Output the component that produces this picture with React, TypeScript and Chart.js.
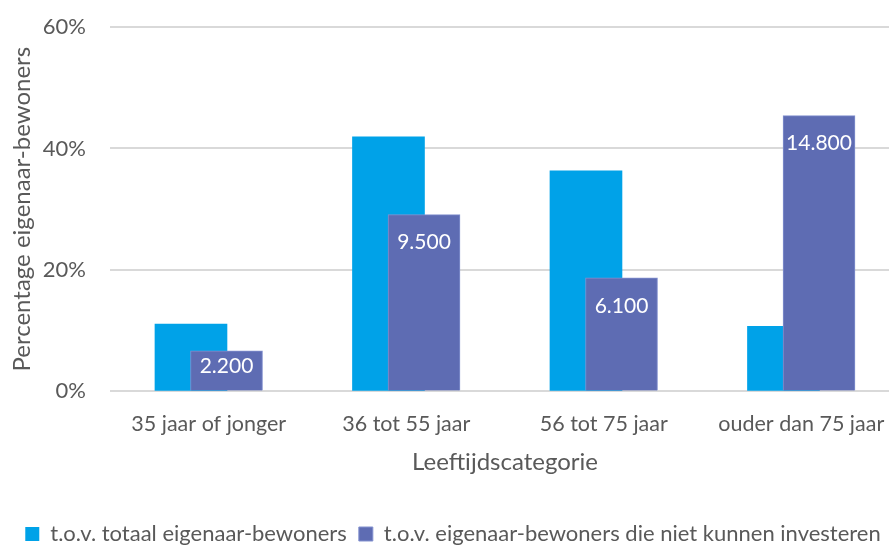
import React, { useEffect, useRef } from "react";
import { Chart, registerables } from "chart.js";

Chart.register(...registerables);

const categories = ["35 jaar of jonger", "36 tot 55 jaar", "56 tot 75 jaar", "ouder dan 75 jaar"];
const seriesNames = [
  "t.o.v. totaal eigenaar-bewoners",
  "t.o.v. eigenaar-bewoners die niet kunnen investeren",
];
const totalShare = [11.1, 41.9, 36.3, 10.7];
const nonInvestShare = [6.7, 29.1, 18.7, 45.4];
const nonInvestCount = [2200, 9500, 6100, 14800];
const yTicks = [0, 20, 40, 60];

const FONT = "Lato, 'Open Sans', sans-serif";
const TEXT = "#595959";
const BAR_OFFSET = 0.09;

function formatCount(n: number): string {
  return String(n).replace(/\B(?=(\d{3})+(?!\d))/g, ".");
}

const labelPlugin = {
  id: "barLabels",
  afterDatasetsDraw(chart: any) {
    const meta = chart.getDatasetMeta(1);
    const ctx = chart.ctx;
    ctx.save();
    ctx.fillStyle = "#ffffff";
    ctx.font = `21px ${FONT}`;
    ctx.textAlign = "center";
    ctx.textBaseline = "middle";
    meta.data.forEach((bar: any, i: number) => {
      const top = bar.y;
      const base = bar.base;
      const y = Math.min(top + 28, (top + base) / 2 - 4);
      ctx.fillText(formatCount(nonInvestCount[i]), bar.x, y);
    });
    ctx.restore();
  },
};

export default function App() {
  const ref = useRef<HTMLCanvasElement>(null);

  useEffect(() => {
    document.body.style.margin = "0";
    const chart = new Chart(ref.current!, {
      type: "bar",
      data: {
        datasets: [
          {
            label: seriesNames[0],
            data: totalShare.map((v, i) => ({ x: i - BAR_OFFSET, y: v })),
            backgroundColor: "#00A2E8",
            borderWidth: 0,
            order: 1,
          },
          {
            label: seriesNames[1],
            data: nonInvestShare.map((v, i) => ({ x: i + BAR_OFFSET, y: v })),
            backgroundColor: "#5E6CB3",
            borderColor: "#8391CF",
            borderWidth: 1,
            borderSkipped: "bottom",
            order: 0,
          },
        ] as any,
      },
      options: {
        animation: false,
        responsive: false,
        grouped: false,
        barThickness: 72,
        layout: { padding: { left: 6, right: 1, top: 27, bottom: 0 } },
        plugins: {
          legend: {
            position: "bottom",
            labels: {
              boxWidth: 14,
              boxHeight: 14,
              padding: 12,
              color: TEXT,
              font: { family: FONT, size: 22 },
              sort: (a: any, b: any) => a.datasetIndex - b.datasetIndex,
            },
          },
          tooltip: { enabled: false },
        },
        scales: {
          x: {
            type: "linear",
            offset: false,
            min: -0.5,
            max: 3.5,
            grid: { display: false },
            border: { display: false },
            afterBuildTicks: (scale: any) => {
              scale.ticks = categories.map((_, i) => ({ value: i }));
            },
            afterFit: (scale: any) => {
              scale.paddingLeft = 0;
              scale.paddingRight = 0;
            },
            ticks: {
              autoSkip: false,
              maxRotation: 0,
              color: TEXT,
              padding: 11.5,
              font: { family: FONT, size: 21.5 },
              callback: (v: any) => categories[v],
            },
            title: {
              display: true,
              text: "Leeftijdscategorie",
              color: TEXT,
              font: { family: FONT, size: 24 },
              padding: { top: 0, bottom: 34 },
            },
          },
          y: {
            min: 0,
            max: 60,
            afterBuildTicks: (scale: any) => {
              scale.ticks = yTicks.map((v) => ({ value: v }));
            },
            afterFit: (scale: any) => {
              scale.width = 104;
              scale.paddingTop = 0;
              scale.paddingBottom = 0;
            },
            grid: { color: "#D9D9D9", lineWidth: 2, drawTicks: false },
            border: { display: false },
            ticks: {
              color: TEXT,
              padding: 24,
              font: { family: FONT, size: 22 },
              callback: (v: any) => v + "%",
            },
            title: {
              display: true,
              text: "Percentage eigenaar-bewoners",
              color: TEXT,
              font: { family: FONT, size: 24 },
              padding: { top: 2, bottom: 8 },
            },
          },
        },
      } as any,
      plugins: [labelPlugin],
    });
    return () => chart.destroy();
  }, []);

  return (
    <div style={{ width: 889, height: 545, overflow: "hidden", background: "#fff" }}>
      <canvas ref={ref} width={901} height={555} style={{ display: "block" }} />
    </div>
  );
}
